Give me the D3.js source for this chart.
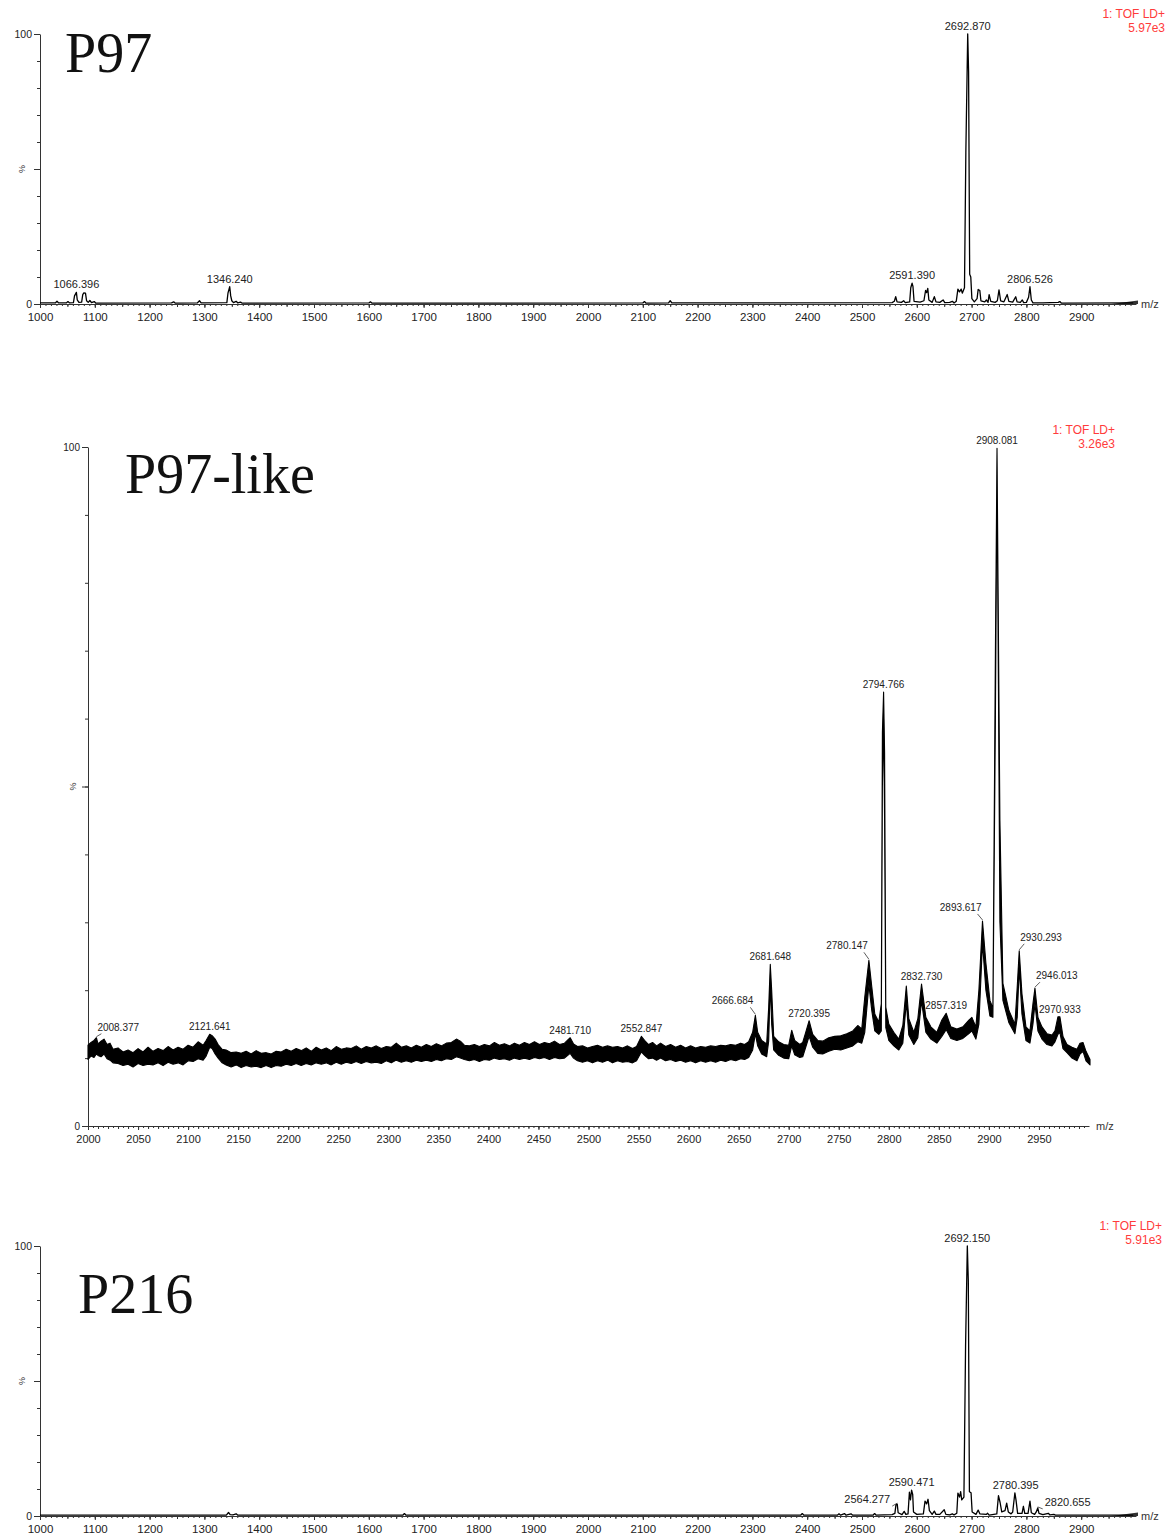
<!DOCTYPE html>
<html>
<head>
<meta charset="utf-8">
<script src="https://cdn.jsdelivr.net/npm/d3@7/dist/d3.min.js"></script>
<style>
  body { margin: 0; background: #fff; }
  svg { display: block; }
</style>
</head>
<body>
<svg id="chart" width="1173" height="1539"></svg>
<script>
// ---- data (m/z, % intensity) ----

const fullRangeTicks = [1000, 1100, 1200, 1300, 1400, 1500, 1600, 1700, 1800, 1900,
                        2000, 2100, 2200, 2300, 2400, 2500, 2600, 2700, 2800, 2900];
const zoomRangeTicks = [2000, 2050, 2100, 2150, 2200, 2250, 2300, 2350, 2400, 2450,
                        2500, 2550, 2600, 2650, 2700, 2750, 2800, 2850, 2900, 2950];

// P97 : single trace
const p97Trace = [
  [1000,0.4],[1028,0.4],[1031,1],[1034,0.4],[1048,0.4],[1051,0.9],[1054,0.4],[1061,0.5],
  [1063,3],[1066.4,4.3],[1068,1.5],[1071,0.6],[1076,0.7],[1078,3.5],[1080,4.1],[1083,4],
  [1085,1.2],[1088,0.6],[1091,1.3],[1094,0.5],[1099,0.9],[1102,0.3],[1240,0.4],[1244,0.8],
  [1247,0.3],[1287,0.4],[1291,1.2],[1294,0.4],[1341,0.5],[1343,4],[1346.2,6.4],[1348,3],
  [1350,1.2],[1353,0.5],[1358,1],[1361,0.4],[1366,0.7],[1369,0.3],[1600,0.4],[1603,0.8],
  [1606,0.3],[2100,0.4],[2103,0.9],[2106,0.3],[2147,0.4],[2150,1.2],[2153,0.4],[2555,0.5],
  [2559,1],[2561.5,2.7],[2564,0.8],[2572,0.6],[2576,1.2],[2579,0.5],[2587,0.8],[2589,6],
  [2591.4,7.7],[2593,6.5],[2595,1],[2606,0.7],[2613,1.2],[2616,5],[2618,4.2],[2620,5.8],
  [2622,1.5],[2628,0.6],[2632,2.7],[2635,0.8],[2642,0.6],[2648,1.5],[2651,0.5],[2660,0.6],
  [2665,1],[2668,0.4],[2672,1],[2675,5.5],[2678,4.5],[2681,5.5],[2683,4],[2687,6],
  [2689.5,56],[2692.9,100],[2694.5,86],[2696.5,11],[2698.5,10],[2700.5,2],[2705,0.8],
  [2710,2],[2712,5.4],[2715,5],[2717,1.2],[2724,0.8],[2727,1.5],[2730,0.6],[2732,3.5],
  [2735,1],[2743,0.6],[2747,1.2],[2750,5.2],[2753,1.2],[2759,0.8],[2765,3.5],[2768,1],
  [2775,0.7],[2780.5,2.7],[2783,0.8],[2789,0.6],[2792.5,1.5],[2795,0.5],[2800,0.6],
  [2804,2.5],[2806.5,6.4],[2809,1.5],[2812,0.4],[2830,0.4],[2858,0.6],[2861,0.9],
  [2864,0.3],[2995,0.4]
];
const p97Peaks = [[1066.396, 4.3], [1346.240, 6.4], [2591.390, 7.7], [2692.870, 100], [2806.526, 6.4]];

// P97-like : noisy trace, kept as lower / upper edge of the band
const likeTrace = [
  [2000,9.8,11.9],[2003,10.3,12.3],[2006,10.1,12.6],[2008.4,10.6,13.0],[2010,10.4,12.1],
  [2013,10.2,12.5],[2016,10.6,12.8],[2019,9.9,12.0],[2022,9.7,12.2],[2025,9.3,11.3],
  [2030,9.2,11.5],[2035,8.9,10.9],[2040,9.1,11.2],[2045,8.7,10.8],[2050,9.2,11.4],
  [2055,8.9,10.9],[2060,9.1,11.6],[2065,9.0,11.0],[2070,9.3,11.4],[2075,8.9,11.1],
  [2080,9.4,11.7],[2085,9.1,11.2],[2090,9.3,11.6],[2095,9.0,11.3],[2100,9.6,11.9],
  [2105,9.5,11.6],[2110,9.9,12.4],[2115,9.7,11.9],[2118,10.3,12.6],[2121.6,11.6,13.5],
  [2124,11.4,13.3],[2127,10.6,12.8],[2130,10.0,12.0],[2134,9.3,11.3],[2138,9.0,11.2],
  [2143,8.7,10.8],[2148,9.0,10.9],[2153,8.6,10.7],[2158,8.9,11.0],[2163,8.7,10.6],
  [2168,8.8,11.1],[2173,8.6,10.7],[2178,8.9,10.8],[2183,8.6,10.6],[2188,8.9,11.0],
  [2193,8.8,10.9],[2198,9.1,11.3],[2203,8.9,11.0],[2208,9.2,11.4],[2213,8.9,11.1],
  [2218,9.2,11.5],[2223,9.0,11.0],[2228,9.3,11.6],[2233,9.1,11.2],[2238,9.3,11.5],
  [2243,9.0,11.1],[2248,9.4,11.7],[2253,9.1,11.3],[2258,9.4,11.5],[2263,9.2,11.4],
  [2268,9.5,11.8],[2273,9.2,11.3],[2278,9.5,11.7],[2283,9.3,11.5],[2288,9.4,11.8],
  [2293,9.2,11.4],[2298,9.6,11.7],[2303,9.3,11.6],[2308,9.7,12.2],[2313,9.4,11.6],
  [2318,9.6,11.8],[2323,9.4,11.5],[2328,9.7,11.9],[2333,9.5,11.6],[2338,9.7,12.0],
  [2343,9.5,11.7],[2348,9.8,12.1],[2353,9.6,11.8],[2358,9.9,12.2],[2363,9.8,12.3],
  [2368,10.2,12.8],[2372,10.0,12.5],[2376,9.8,11.9],[2381,9.6,11.8],[2386,9.8,12.0],
  [2391,9.5,11.7],[2396,9.8,12.0],[2401,9.7,11.8],[2406,10.0,12.3],[2411,9.8,11.9],
  [2416,9.9,12.1],[2421,9.7,11.8],[2426,10.0,12.2],[2431,9.8,11.9],[2436,10.0,12.3],
  [2441,9.8,12.0],[2446,10.1,12.4],[2451,9.9,12.0],[2456,10.1,12.3],[2461,9.8,12.1],
  [2466,10.1,12.5],[2471,9.9,12.0],[2476,10.0,12.2],[2481.7,10.7,13.0],[2485,10.0,12.1],
  [2489,9.6,11.7],[2494,9.4,11.8],[2499,9.6,11.5],[2504,9.3,11.7],[2509,9.6,11.9],
  [2514,9.4,11.6],[2519,9.7,11.8],[2524,9.3,11.6],[2529,9.6,11.7],[2534,9.4,11.5],
  [2539,9.5,11.8],[2544,9.3,11.4],[2548,9.6,11.7],[2552.8,10.9,13.2],[2556,10.4,12.6],
  [2560,9.9,12.0],[2564,10.0,12.3],[2568,9.7,11.8],[2572,10.0,12.2],[2577,9.6,11.7],
  [2582,9.8,12.0],[2587,9.5,11.6],[2592,9.7,11.9],[2597,9.4,11.5],[2602,9.6,11.8],
  [2607,9.3,11.5],[2612,9.6,11.7],[2617,9.4,11.6],[2622,9.6,11.8],[2627,9.4,11.7],
  [2632,9.7,11.9],[2637,9.5,11.8],[2642,9.8,12.0],[2647,9.6,11.9],[2652,9.9,12.2],
  [2656,9.8,12.0],[2660,10.1,12.4],
  [2664,11.2,13.8],[2666.7,13.6,16.3],[2669,11.8,13.8],[2673,10.6,12.6],[2678,10.2,12.1],
  [2680,12.5,17.5],[2681.6,21.0,23.8],[2683,15.0,20.0],[2685,11.2,13.2],[2690,10.4,12.4],
  [2695,10.0,12.0],[2700,9.9,11.9],[2703,11.8,14.1],[2706,10.5,12.6],[2711,10.1,12.0],
  [2714,10.2,12.3],[2717,11.6,13.8],[2720.4,13.2,15.5],[2724,11.6,13.5],[2729,10.7,12.6],
  [2734,10.6,12.5],[2740,11.0,13.0],[2746,11.3,13.2],[2752,11.2,13.3],[2758,11.5,13.6],
  [2764,11.8,14.0],[2769,12.4,14.8],[2773,12.2,14.3],[2776,13.8,19.0],[2780.1,20.8,24.4],
  [2783,17.0,20.5],[2786,14.0,16.5],[2790,13.5,15.3],[2792.5,14.0,18.0],[2793.6,50.0,58.0],
  [2794.8,60.0,63.9],[2795.8,45.0,55.0],[2797,14.5,17.5],[2800,12.6,15.0],[2805,11.8,13.8],
  [2810,11.2,12.8],[2814,12.2,14.8],
  [2817.5,18.2,20.6],[2820,13.4,15.8],[2825,12.0,13.8],[2829,13.0,15.8],[2832.7,18.4,20.9],
  [2837,13.8,16.0],[2842,12.8,14.6],[2848,12.2,13.8],[2853,13.2,15.6],[2857.3,14.2,16.6],
  [2862,12.9,14.6],[2868,12.6,14.3],[2874,12.9,14.6],[2880,13.6,15.6],[2883,14.0,16.0],
  [2887,12.8,14.6],[2890,15.0,20.0],[2893.6,27.0,30.2],[2897,20.0,24.0],[2901,16.2,18.5],
  [2904,16.0,17.4],[2906.5,60.0,70.0],[2908.1,96.0,99.8],[2909.5,65.0,73.0],[2911,30.0,45.0],
  [2914,18.5,21.0],[2920,15.2,17.0],[2926,13.6,15.0],[2928.3,16.0,20.5],[2930.3,23.3,25.8],
  [2933,16.5,19.5],[2937,12.6,14.6],[2941,12.2,14.0],[2944,15.0,18.0],[2946,18.0,20.3],
  [2949,14.0,16.0],[2953,12.8,14.6],[2958,12.0,13.6],[2963,11.8,13.4],[2966,12.4,14.0],
  [2969,13.5,16.1],[2970.9,13.8,16.1],[2974,11.4,13.2],[2978,10.8,12.0],[2983,10.0,11.6],
  [2988,9.6,11.3],[2991,10.6,12.2],[2994,11.0,12.3],[2997,9.6,11.0],[3001,9.0,9.8]
];
const likePeaks = [
  [2008.377, 13.0], [2121.641, 13.5], [2481.710, 13.0], [2552.847, 13.2],
  [2666.684, 16.3], [2681.648, 23.8], [2720.395, 15.5], [2780.147, 24.4],
  [2794.766, 63.9], [2832.730, 20.9], [2857.319, 16.6], [2893.617, 30.2],
  [2908.081, 99.8], [2930.293, 25.8], [2946.013, 20.3], [2970.933, 16.1]
];

// P216 : single trace
const p216Trace = [
  [1000,0.3],[1340,0.3],[1344,1.3],[1347,0.5],[1352,0.4],[1358,0.8],[1361,0.3],[1662,0.3],
  [1665,0.9],[1668,0.3],[2388,0.3],[2391,0.9],[2394,0.3],[2455,0.3],[2458,0.8],[2461,0.3],
  [2468,0.9],[2471,0.3],[2480,0.8],[2483,0.3],[2520,0.3],[2523,0.9],[2526,0.3],[2555,0.5],
  [2560,1],[2562,4.2],[2564.3,4.4],[2566,1.2],[2573,0.5],[2577,1.7],[2580,0.6],[2584,0.8],
  [2586.5,8.8],[2588.5,6],[2590.5,9.6],[2592.5,8],[2594,1.5],[2600,0.6],[2612,0.8],
  [2615,5.5],[2618,4.5],[2620.5,6.2],[2623,2],[2628,0.6],[2632,1.8],[2635,0.6],[2642,0.6],
  [2650,2.3],[2653,0.6],[2660,0.4],[2665,0.8],[2668,0.4],[2673,1],[2675,8.5],[2678,7],
  [2680,9],[2682,6],[2686,7],[2689,63],[2692.2,100],[2694,87],[2696,9],[2699,8.6],
  [2701,1.5],[2708,0.6],[2712,2.2],[2715,0.8],[2727,0.6],[2729,1],[2732,0.3],[2746,0.8],
  [2749,7.5],[2752,5],[2755,1.5],[2761,2],[2764,4.8],[2767,1.5],[2772,0.8],[2775,1.5],
  [2779,8.6],[2781,6],[2784,1],[2792,1],[2794.5,3.6],[2797,1],[2803,1],[2806.5,5.5],
  [2809,1.2],[2815,0.6],[2818,1.5],[2820.7,3],[2823,1],[2830,0.5],[2840,1],[2843,0.4],
  [2850,0.6],[2853,0.3],[2995,0.3]
];
const p216Peaks = [[2564.277, 4.4], [2590.471, 9.6], [2692.150, 100], [2780.395, 8.6], [2820.655, 3.0]];

// ---- layout ----
const panels = [
  { title: "P97", trace: p97Trace, peaks: p97Peaks, band: false, domain: [1000, 3000],
    range: [40, 1136], top: 34, bottom: 304, ticks: fullRangeTicks, minor: 10, mid: 50,
    titleX: 65, titleY: 72, note: "5.97e3", noteX: 1165, noteY: 18, labelSize: 11,
    pctX: 22, arrow: true },
  { title: "P97-like", trace: likeTrace, peaks: likePeaks, band: true, domain: [2000, 3000],
    range: [88, 1089], top: 447, bottom: 1126, ticks: zoomRangeTicks, minor: 5, mid: 10,
    titleX: 125, titleY: 493, note: "3.26e3", noteX: 1115, noteY: 434, labelSize: 10,
    pctX: 73, arrow: false },
  { title: "P216", trace: p216Trace, peaks: p216Peaks, band: false, domain: [1000, 3000],
    range: [40, 1136], top: 1246, bottom: 1516, ticks: fullRangeTicks, minor: 10, mid: 50,
    titleX: 78, titleY: 1313, note: "5.91e3", noteX: 1162, noteY: 1230, labelSize: 11,
    pctX: 22, arrow: true }
];

// labels that sit beside their peak with a short leader line
const labelNudge = {
  "2008.377": { dx: 1, dy: -7, anchor: "start" },
  "2666.684": { dx: -2, dy: -11, anchor: "end" },
  "2780.147": { dx: -1, dy: -11, anchor: "end" },
  "2893.617": { dx: -1, dy: -10, anchor: "end" },
  "2930.293": { dx: 1, dy: -10, anchor: "start" },
  "2946.013": { dx: 1, dy: -9, anchor: "start" },
  "2564.277": { dx: -7, dy: -1, anchor: "end" },
  "2820.655": { dx: 7, dy: -2, anchor: "start" }
};

const svg = d3.select("#chart");
const sans = "'Liberation Sans', Arial, sans-serif";
const fmt = d3.format(".3f");
const axisColor = "#333";

function styleAxis(sel, size) {
  sel.selectAll("path, line").attr("stroke", axisColor).attr("stroke-width", 1);
  sel.selectAll("text").attr("fill", "#222").style("font-family", sans).style("font-size", size + "px");
}

function drawPanel(p) {
  const x = d3.scaleLinear().domain(p.domain).range(p.range);
  const y = d3.scaleLinear().domain([0, 100]).range([p.bottom, p.top]);
  const g = svg.append("g");

  // x axis: minor, middle and labelled ticks
  const minorVals = d3.range(p.domain[0], p.domain[1], p.minor);
  const midVals = d3.range(p.domain[0], p.domain[1], p.mid);
  g.append("g").attr("transform", `translate(0,${p.bottom})`)
    .call(d3.axisBottom(x).tickValues(minorVals).tickSize(2).tickFormat("").tickSizeOuter(0))
    .call(s => styleAxis(s, 11));
  g.append("g").attr("transform", `translate(0,${p.bottom})`)
    .call(d3.axisBottom(x).tickValues(midVals).tickSize(3).tickFormat("").tickSizeOuter(0))
    .call(s => s.select(".domain").remove())
    .call(s => styleAxis(s, 11));
  g.append("g").attr("transform", `translate(0,${p.bottom})`)
    .call(d3.axisBottom(x).tickValues(p.ticks).tickSize(4).tickPadding(5)
      .tickFormat(d3.format("d")).tickSizeOuter(0))
    .call(s => s.select(".domain").remove())
    .call(s => styleAxis(s, p.band ? 11 : 11.5));

  // y axis
  g.append("g").attr("transform", `translate(${p.range[0]},0)`)
    .call(d3.axisLeft(y).tickValues(d3.range(10, 100, 10)).tickSize(3).tickFormat("").tickSizeOuter(0))
    .call(s => styleAxis(s, 10));
  g.append("g").attr("transform", `translate(${p.range[0]},0)`)
    .call(d3.axisLeft(y).tickValues([0, 50, 100]).tickSize(6).tickPadding(2)
      .tickFormat(d => d === 50 ? "" : d).tickSizeOuter(0))
    .call(s => s.select(".domain").remove())
    .call(s => styleAxis(s, p.band ? 10 : 10.5));

  g.append("text")
    .attr("transform", `translate(${p.pctX},${y(50)}) rotate(-90)`)
    .attr("text-anchor", "middle").attr("dy", "0.35em")
    .style("font-family", sans).style("font-size", "9px").attr("fill", "#333")
    .text("%");

  // axis end
  const xEnd = x(p.domain[1]);
  if (p.arrow) {
    g.append("path")
      .attr("d", `M${x(2955)},${p.bottom}L${xEnd + 2},${p.bottom - 3.5}L${xEnd + 2},${p.bottom}Z`)
      .attr("fill", axisColor);
  }
  g.append("text")
    .attr("x", xEnd + (p.arrow ? 5 : 7)).attr("y", p.bottom).attr("dy", "0.35em")
    .style("font-family", sans).style("font-size", "11px").attr("fill", "#333")
    .text("m/z");

  // spectrum
  if (p.band) {
    g.append("path").datum(p.trace)
      .attr("d", d3.area().x(d => x(d[0])).y0(d => y(d[1])).y1(d => y(d[2])))
      .attr("fill", "#000").attr("stroke", "#000").attr("stroke-width", 1.1)
      .attr("stroke-linejoin", "round");
  } else {
    g.append("path").datum(p.trace)
      .attr("d", d3.line().x(d => x(d[0])).y(d => y(d[1])))
      .attr("fill", "none").attr("stroke", "#000").attr("stroke-width", 1.3)
      .attr("stroke-linejoin", "round");
  }

  // peak labels
  p.peaks.forEach(([mz, v]) => {
    const txt = fmt(mz);
    const px = x(mz), py = y(v);
    const n = labelNudge[txt];
    if (n) {
      const sign = n.anchor === "end" ? -1 : 1;
      g.append("line")
        .attr("x1", px).attr("y1", py - 1)
        .attr("x2", px + sign * 5).attr("y2", py + n.dy + 3)
        .attr("stroke", "#333").attr("stroke-width", 0.8);
    }
    g.append("text")
      .attr("x", px + (n ? n.dx : 0)).attr("y", py + (n ? n.dy : -4))
      .attr("text-anchor", n ? n.anchor : "middle")
      .style("font-family", sans).style("font-size", p.labelSize + "px").attr("fill", "#222")
      .text(txt);
  });

  // sample name
  g.append("text")
    .attr("x", p.titleX).attr("y", p.titleY)
    .style("font-family", "'Liberation Serif', 'Times New Roman', serif")
    .style("font-size", "56px").attr("fill", "#111")
    .text(p.title);

  // scan note
  const note = g.append("text")
    .attr("text-anchor", "end")
    .style("font-family", sans).style("font-size", "12px").attr("fill", "#ff3b3b");
  note.append("tspan").attr("x", p.noteX).attr("y", p.noteY).text("1: TOF LD+");
  note.append("tspan").attr("x", p.noteX).attr("y", p.noteY + 14).text(p.note);
}

panels.forEach(drawPanel);
</script>
</body>
</html>
